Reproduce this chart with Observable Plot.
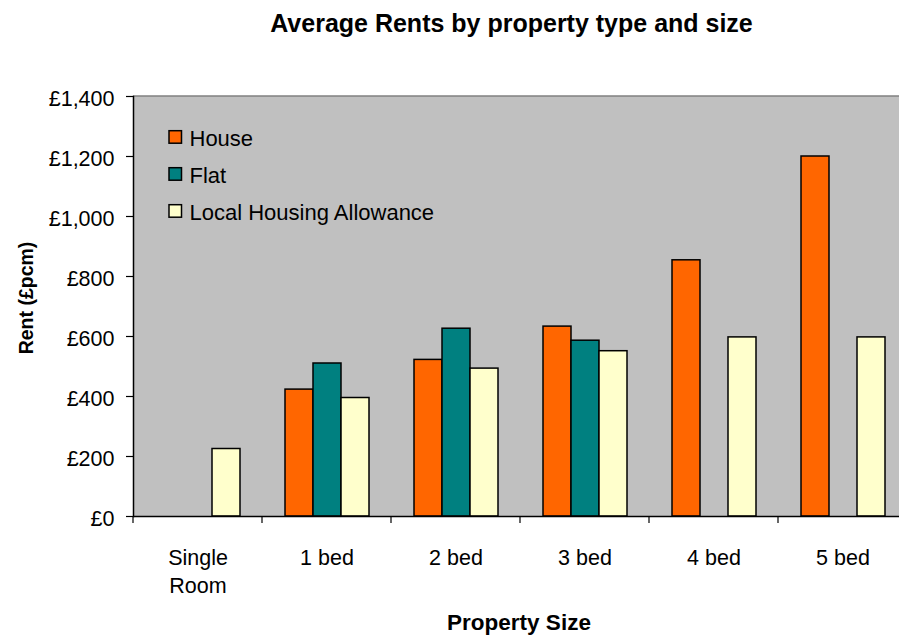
<!DOCTYPE html>
<html>
<head>
<meta charset="utf-8">
<script src="https://cdn.jsdelivr.net/npm/d3@7"></script>
<script src="https://cdn.jsdelivr.net/npm/@observablehq/plot@0.6"></script>
<style>
  html, body { margin: 0; padding: 0; background: white; overflow: hidden; }
  #chart { position: relative; width: 899px; height: 635px; }
</style>
</head>
<body>
<div id="chart"></div>
<script>
const categories = ["Single Room", "1 bed", "2 bed", "3 bed", "4 bed", "5 bed"];
const series = ["House", "Flat", "Local Housing Allowance"];
const house = [null, 423, 522, 633, 854, 1200];
const flat = [null, 510, 626, 586, null, null];
const lha = [225, 395, 493, 551, 597, 597];
const colors = ["#ff6600", "#008080", "#ffffcc"];
const yTicks = [0, 200, 400, 600, 800, 1000, 1200, 1400];

const title = "Average Rents by property type and size";
const yTitle = "Rent (£pcm)";
const xTitle = "Property Size";

const valuesBySeries = [house, flat, lha];
const rows = categories.flatMap((c, i) =>
  series.map((s, j) => ({category: c, series: s, value: valuesBySeries[j][i]}))
        .filter(d => d.value != null)
);

const FONT = "Arial, 'Liberation Sans', sans-serif";

const chart = Plot.plot({
  width: 899,
  height: 635,
  marginTop: 96,
  marginBottom: 119,
  marginLeft: 133,
  marginRight: -8,
  style: {fontFamily: FONT, fontSize: "21.5px", color: "black", background: "white"},
  fx: {domain: categories, padding: 0, label: null},
  x: {domain: series, paddingInner: 0, paddingOuter: 0.75, axis: null},
  y: {domain: [0, 1400], label: null, axis: null},
  color: {domain: series, range: colors},
  marks: [
    Plot.barY(rows, {fx: "category", x: "series", y: "value", fill: "series", stroke: "black", strokeWidth: 1.5}),
    Plot.ruleY([0], {stroke: "black", strokeWidth: 1.5}),
    Plot.frame({anchor: "left", facetAnchor: "left", stroke: "black", strokeWidth: 1.5}),
    Plot.axisY({ticks: yTicks, tickSize: 7, tickFormat: () => "", label: null, strokeWidth: 1.2}),
    Plot.axisY({ticks: yTicks, tickSize: 0, tickPadding: 19, tickFormat: d => "£" + d3.format(",")(d), label: null, dy: 3}),
    Plot.axisFx({anchor: "bottom", tickSize: 0, tickPadding: 29, lineHeight: 1.3, label: null,
      tickFormat: d => d === "Single Room" ? "Single\nRoom" : d})
  ]
});

document.getElementById("chart").appendChild(chart);

const svg = d3.select(chart);
const fx = chart.scale("fx");
const y = chart.scale("y");
const y0 = y.apply(0);
const yTop = y.apply(1400);
const xLeft = fx.range[0];
const xRight = fx.range[1];

// plot-area background and its top border, behind every mark
const bg = svg.insert("g", ":first-child");
bg.append("rect")
  .attr("x", xLeft).attr("y", yTop)
  .attr("width", xRight - xLeft).attr("height", y0 - yTop)
  .attr("fill", "#c0c0c0");
bg.append("line")
  .attr("x1", xLeft).attr("x2", xRight).attr("y1", yTop).attr("y2", yTop)
  .attr("stroke", "#808080").attr("stroke-width", 1.5);

// category boundary ticks on the x axis
const bounds = categories.map(c => fx.apply(c)).concat([xRight]);
svg.append("g").attr("stroke", "black").attr("stroke-width", 1.2)
  .selectAll("line").data(bounds).join("line")
  .attr("x1", d => d).attr("x2", d => d)
  .attr("y1", y0).attr("y2", y0 + 7);

// titles
svg.append("text").text(title)
  .attr("x", 511.5).attr("y", 31.5)
  .attr("text-anchor", "middle")
  .attr("font-family", FONT).attr("font-weight", "bold").attr("font-size", 25)
  .attr("fill", "black");

svg.append("text").text(xTitle)
  .attr("x", 519).attr("y", 630)
  .attr("text-anchor", "middle")
  .attr("font-family", FONT).attr("font-weight", "bold").attr("font-size", 22.5)
  .attr("fill", "black");

svg.append("text").text(yTitle)
  .attr("transform", "translate(33,298) rotate(-90)")
  .attr("text-anchor", "middle")
  .attr("font-family", FONT).attr("font-weight", "bold").attr("font-size", 19.5)
  .attr("fill", "black");

// legend inside the plot area
const legend = svg.append("g").attr("text-anchor", "start");
series.forEach((s, i) => {
  const base = 146 + i * 37;
  legend.append("rect")
    .attr("x", 169).attr("y", base - 15.3).attr("width", 12.5).attr("height", 12.5)
    .attr("fill", colors[i]).attr("stroke", "black").attr("stroke-width", 1.5);
  legend.append("text").text(s)
    .attr("x", 189.5).attr("y", base)
    .attr("text-anchor", "start")
    .attr("font-family", FONT).attr("font-size", 22)
    .attr("fill", "black");
});
</script>
</body>
</html>
